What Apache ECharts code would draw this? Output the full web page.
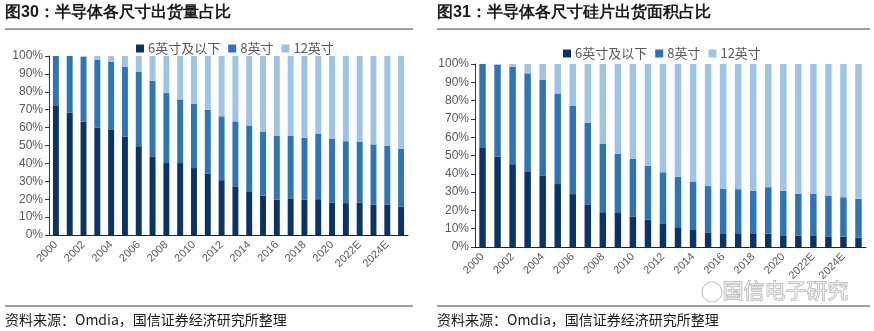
<!DOCTYPE html>
<html>
<head>
<meta charset="utf-8">
<script src="https://cdn.jsdelivr.net/npm/echarts@6/dist/echarts.min.js"></script>
<style>
  html, body { margin: 0; padding: 0; background: #fff; }
  #chart { width: 874px; height: 331px; }
</style>
</head>
<body>
<div id="chart"></div>
<script>
// Categories (years, E = estimate)
const years = ['2000','2001','2002','2003','2004','2005','2006','2007','2008','2009',
  '2010','2011','2012','2013','2014','2015','2016','2017','2018','2019',
  '2020','2021','2022E','2023E','2024E','2025E'];

// Fig.30 — share of shipments by wafer size (%)
const shipSmall = [72.0, 68.3, 63.3, 60.0, 58.7, 55.0, 49.6, 43.9, 40.2, 40.2,
  37.4, 34.4, 30.6, 27.2, 24.4, 22.0, 19.8, 20.4, 19.8, 20.0,
  18.1, 17.8, 18.1, 16.9, 16.9, 15.8];
const ship8 = [28.0, 31.7, 36.2, 38.0, 38.0, 38.9, 41.5, 42.2, 39.1, 35.5,
  35.9, 35.6, 35.7, 36.3, 36.5, 35.6, 35.7, 35.0, 34.5, 36.7,
  35.8, 34.6, 34.1, 33.7, 32.9, 32.5];
const ship12 = [0.0, 0.0, 0.5, 2.0, 3.3, 6.1, 8.9, 13.9, 20.7, 24.3,
  26.7, 30.0, 33.7, 36.5, 39.1, 42.4, 44.5, 44.6, 45.7, 43.3,
  46.1, 47.6, 47.8, 49.4, 50.2, 51.7];

// Fig.31 — share of shipped wafer area by size (%)
const areaSmall = [54.1, 49.3, 44.8, 41.0, 39.1, 34.4, 28.9, 23.0, 19.0, 18.6,
  16.7, 15.0, 12.6, 10.8, 9.3, 8.0, 7.1, 7.5, 7.1, 7.3,
  6.4, 6.2, 6.4, 5.8, 5.7, 5.1];
const area8 = [45.9, 50.3, 53.7, 53.9, 52.3, 49.5, 48.2, 44.8, 37.3, 32.4,
  31.4, 29.4, 28.2, 27.6, 26.5, 25.3, 24.7, 24.1, 23.6, 25.4,
  24.3, 22.9, 22.7, 22.2, 21.5, 21.2];
const area12 = [0.0, 0.4, 1.5, 5.1, 8.6, 16.1, 22.9, 32.2, 43.7, 49.0,
  51.9, 55.6, 59.2, 61.6, 64.2, 66.7, 68.2, 68.4, 69.3, 67.3,
  69.3, 70.9, 70.9, 72.0, 72.8, 73.7];

const sizeNames = ['6英寸及以下', '8英寸', '12英寸'];
const yTicks = { min: 0, max: 100, interval: 10 };

const colors = ['#0b3466', '#2e75b6', '#9dc3e6'];
const FONT = '"Liberation Sans", "Noto Sans CJK SC", sans-serif';
const CJK = '"Noto Sans CJK SC", sans-serif';
const grey = '#595959';

function xAxis(gridIndex) {
  return {
    type: 'category', gridIndex, data: years, boundaryGap: true,
    axisLine: { lineStyle: { color: '#262626', width: 1 } },
    axisTick: { interval: 0, length: 5, lineStyle: { color: '#262626' } },
    axisLabel: { interval: 1, rotate: 45, fontSize: 11, color: grey, fontFamily: FONT, margin: 8 }
  };
}
function yAxis(gridIndex) {
  return {
    type: 'value', gridIndex, min: yTicks.min, max: yTicks.max, interval: yTicks.interval,
    splitLine: { show: false },
    axisLine: { show: true, lineStyle: { color: '#1f3a66', width: 1 } },
    axisTick: { show: true, length: 4, lineStyle: { color: '#1f3a66' } },
    axisLabel: { formatter: '{value}%', fontSize: 12, color: grey, fontFamily: FONT, margin: 6 }
  };
}
function bars(idx, arrays) {
  return arrays.map((d, i) => ({
    name: sizeNames[i], type: 'bar', stack: 'g' + idx,
    xAxisIndex: idx, yAxisIndex: idx, data: d,
    barWidth: '43%', itemStyle: { color: colors[i] }
  }));
}
function legend(left, top) {
  return {
    left, top, data: sizeNames, itemWidth: 8, itemHeight: 8, itemGap: 8,
    icon: 'rect', textStyle: { fontSize: 13, color: grey, fontFamily: CJK, padding: [0, 0, 0, -1] }
  };
}
function titleText(x, text) {
  return { type: 'text', left: x, top: 5,
    style: { text, fontSize: 16, fontWeight: 'bold', fill: '#1a1a1a', font: 'bold 16px ' + CJK } };
}
function hline(x1, x2, y, color, w) {
  return { type: 'line', shape: { x1, y1: y, x2, y2: y }, style: { stroke: color, lineWidth: w } };
}
function source(x) {
  return { type: 'text', left: x, top: 313,
    style: { text: '资料来源：Omdia，国信证券经济研究所整理', font: '14px ' + CJK, fill: '#1a1a1a' } };
}

const chart = echarts.init(document.getElementById('chart'), null, { renderer: 'canvas' });
chart.setOption({
  animation: false,
  backgroundColor: '#fff',
  grid: [
    { left: 49, right: 466, top: 56, bottom: 96 },
    { left: 475, right: 8, top: 64, bottom: 84 }
  ],
  legend: [legend(131, 37), legend(558, 42)],
  xAxis: [xAxis(0), xAxis(1)],
  yAxis: [yAxis(0), yAxis(1)],
  series: [
    ...bars(0, [shipSmall, ship8, ship12]),
    ...bars(1, [areaSmall, area8, area12])
  ],
  graphic: [
    titleText(5, '图30：半导体各尺寸出货量占比'),
    titleText(437, '图31：半导体各尺寸硅片出货面积占比'),
    hline(5, 413, 29, '#7f7f7f', 1.5),
    hline(437, 870, 29, '#7f7f7f', 1.5),
    hline(5, 413, 306, '#7f7f7f', 1.5),
    hline(437, 870, 306, '#7f7f7f', 1.5),
    source(5),
    source(437),
    // account watermark: chat-bubble icon and hollow lettering
    { type: 'circle', shape: { cx: 712, cy: 292, r: 10 },
      style: { fill: 'none', stroke: '#c8c8c8', lineWidth: 1.2 } },
    { type: 'text', left: 722, top: 279,
      style: { text: '国信电子研究', font: '21px ' + CJK, fill: 'rgba(255,255,255,0.6)', stroke: '#a8a8a8', lineWidth: 1 } }
  ]
});
</script>
</body>
</html>
